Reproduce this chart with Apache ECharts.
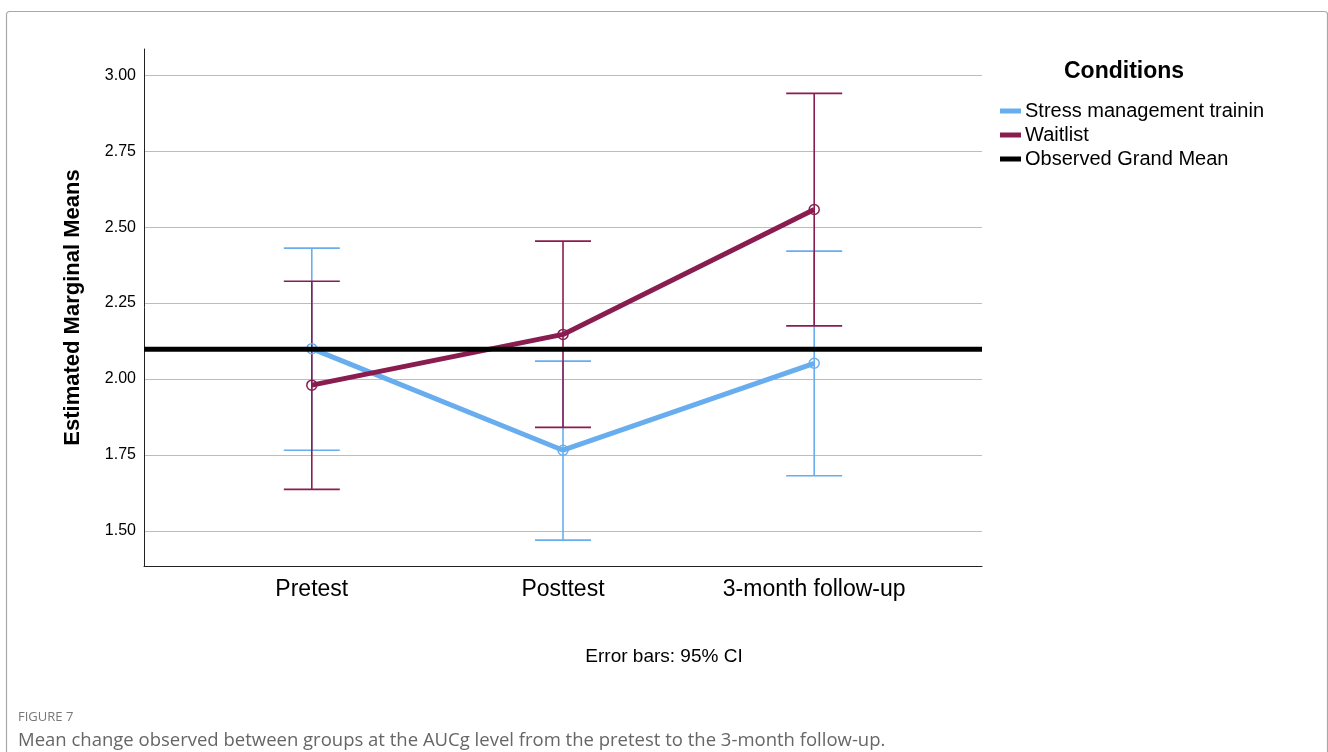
<!DOCTYPE html>
<html>
<head>
<meta charset="utf-8">
<script src="https://cdn.jsdelivr.net/npm/echarts@6/dist/echarts.min.js"></script>
<style>
  html, body { margin: 0; padding: 0; background: #fff; }
  #chart { width: 1328px; height: 752px; }
</style>
</head>
<body>
<div id="chart"></div>
<script>
  // categories on the x axis (drawn at 0, 1, 2 of a value axis)
  var categories = ['Pretest', 'Posttest', '3-month follow-up']
  var yTicks = [1.5, 1.75, 2.0, 2.25, 2.5, 2.75, 3.0]

  // estimated marginal means
  var stressMean = [2.10, 1.766, 2.052]
  var waitMean = [1.980, 2.147, 2.558]
  // 95% CI bounds
  var stressLow = [1.766, 1.470, 1.682]
  var stressHigh = [2.431, 2.059, 2.421]
  var waitLow = [1.637, 1.841, 2.175]
  var waitHigh = [2.322, 2.454, 2.940]
  var grandMean = 2.098

  var blue = '#68aeef'
  var maroon = '#8a1d50'
  var font = '"Liberation Sans", Arial, sans-serif'
  var capFont = '"Open Sans", "Noto Sans", sans-serif'

  var xMin = -0.668
  var xMax = 2.668

  function pts(vals) {
    return vals.map(function(v, i) { return [i, v] })
  }
  function bars(lo, hi) {
    return lo.map(function(v, i) { return [i, v, hi[i]] })
  }

  function renderErr(params, api) {
    var x = api.value(0)
    var lo = api.coord([x, api.value(1)])
    var hi = api.coord([x, api.value(2)])
    var hw = 28
    var style = { stroke: api.visual('color'), lineWidth: 1.6 }
    return {
      type: 'group',
      children: [
        { type: 'line', shape: { x1: hi[0], y1: hi[1], x2: lo[0], y2: lo[1] }, style: style },
        { type: 'line', shape: { x1: hi[0] - hw, y1: hi[1], x2: hi[0] + hw, y2: hi[1] }, style: style },
        { type: 'line', shape: { x1: lo[0] - hw, y1: lo[1], x2: lo[0] + hw, y2: lo[1] }, style: style }
      ]
    }
  }

  var chart = echarts.init(document.getElementById('chart'), null, { renderer: 'canvas' })
  chart.setOption({
    animation: false,
    backgroundColor: '#fff',
    textStyle: { fontFamily: font },
    grid: { left: 144, right: 346, top: 49, bottom: 186 },
    graphic: [
      {
        type: 'rect',
        left: 4, top: 9,
        shape: { width: 1321, height: 800, r: 3 },
        style: { fill: 'none', stroke: '#a8a8a8', lineWidth: 1.2 },
        z: -10
      },
      {
        type: 'text', left: 1064, top: 60,
        style: { text: 'Conditions', fill: '#000', font: 'bold 23px ' + font }
      },
      {
        type: 'text', left: 'center', top: 647,
        style: { text: 'Error bars: 95% CI', fill: '#000', font: '19px ' + font }
      },
      {
        type: 'text', left: 18, top: 711,
        style: { text: 'FIGURE 7', fill: '#777', font: '13px ' + capFont }
      },
      {
        type: 'text', left: 18, top: 731,
        style: {
          text: 'Mean change observed between groups at the AUCg level from the pretest to the 3-month follow-up.',
          fill: '#666', font: '18.5px ' + capFont
        }
      }
    ],
    legend: {
      orient: 'vertical',
      left: 1000,
      top: 101,
      padding: 0,
      itemWidth: 21,
      itemHeight: 5,
      itemGap: 4,
      icon: 'rect',
      selectedMode: false,
      data: ['Stress management training', 'Waitlist', 'Observed Grand Mean'],
      textStyle: {
        fontFamily: font, fontSize: 20, color: '#000', padding: [0, 0, 0, -1],
        width: 248, overflow: 'truncate', ellipsis: ''
      }
    },
    xAxis: {
      type: 'value',
      min: xMin,
      max: xMax,
      axisLine: { show: true, onZero: false, lineStyle: { color: '#222', width: 1 } },
      axisTick: { show: false },
      splitLine: { show: false },
      axisLabel: {
        customValues: [0, 1, 2],
        formatter: function(v) { return categories[Math.round(v)] },
        fontSize: 23, color: '#000', fontFamily: font, margin: 12
      }
    },
    yAxis: {
      type: 'value',
      min: 1.385,
      max: 3.086,
      name: 'Estimated Marginal Means',
      nameLocation: 'middle',
      nameGap: 60,
      nameTextStyle: { fontSize: 22, fontWeight: 'bold', color: '#000', fontFamily: font },
      axisLine: { show: true, onZero: false, lineStyle: { color: '#222', width: 1 } },
      axisTick: { show: false, customValues: yTicks },
      splitLine: { show: true, lineStyle: { color: '#bdbdbd', width: 1.2 } },
      axisLabel: {
        customValues: yTicks,
        formatter: function(v) { return v.toFixed(2) },
        fontSize: 16, color: '#000', fontFamily: font, margin: 8
      }
    },
    series: [
      {
        name: 'Stress management training',
        type: 'custom',
        renderItem: renderErr,
        itemStyle: { color: blue },
        data: bars(stressLow, stressHigh),
        z: 2
      },
      {
        name: 'Waitlist',
        type: 'custom',
        renderItem: renderErr,
        itemStyle: { color: maroon },
        data: bars(waitLow, waitHigh),
        z: 3
      },
      {
        name: 'Stress management training',
        type: 'line',
        data: pts(stressMean),
        color: blue,
        lineStyle: { color: blue, width: 5 },
        symbol: 'circle',
        symbolSize: 10,
        itemStyle: { color: 'rgba(255,255,255,0)', borderColor: blue, borderWidth: 1.5 },
        z: 4
      },
      {
        name: 'Waitlist',
        type: 'line',
        data: pts(waitMean),
        color: maroon,
        lineStyle: { color: maroon, width: 5 },
        symbol: 'circle',
        symbolSize: 10,
        itemStyle: { color: 'rgba(255,255,255,0)', borderColor: maroon, borderWidth: 1.5 },
        z: 5
      },
      {
        name: 'Observed Grand Mean',
        type: 'line',
        data: [[xMin, grandMean], [xMax, grandMean]],
        color: '#000',
        lineStyle: { color: '#000', width: 5 },
        symbol: 'none',
        z: 6
      }
    ]
  })
</script>
</body>
</html>
